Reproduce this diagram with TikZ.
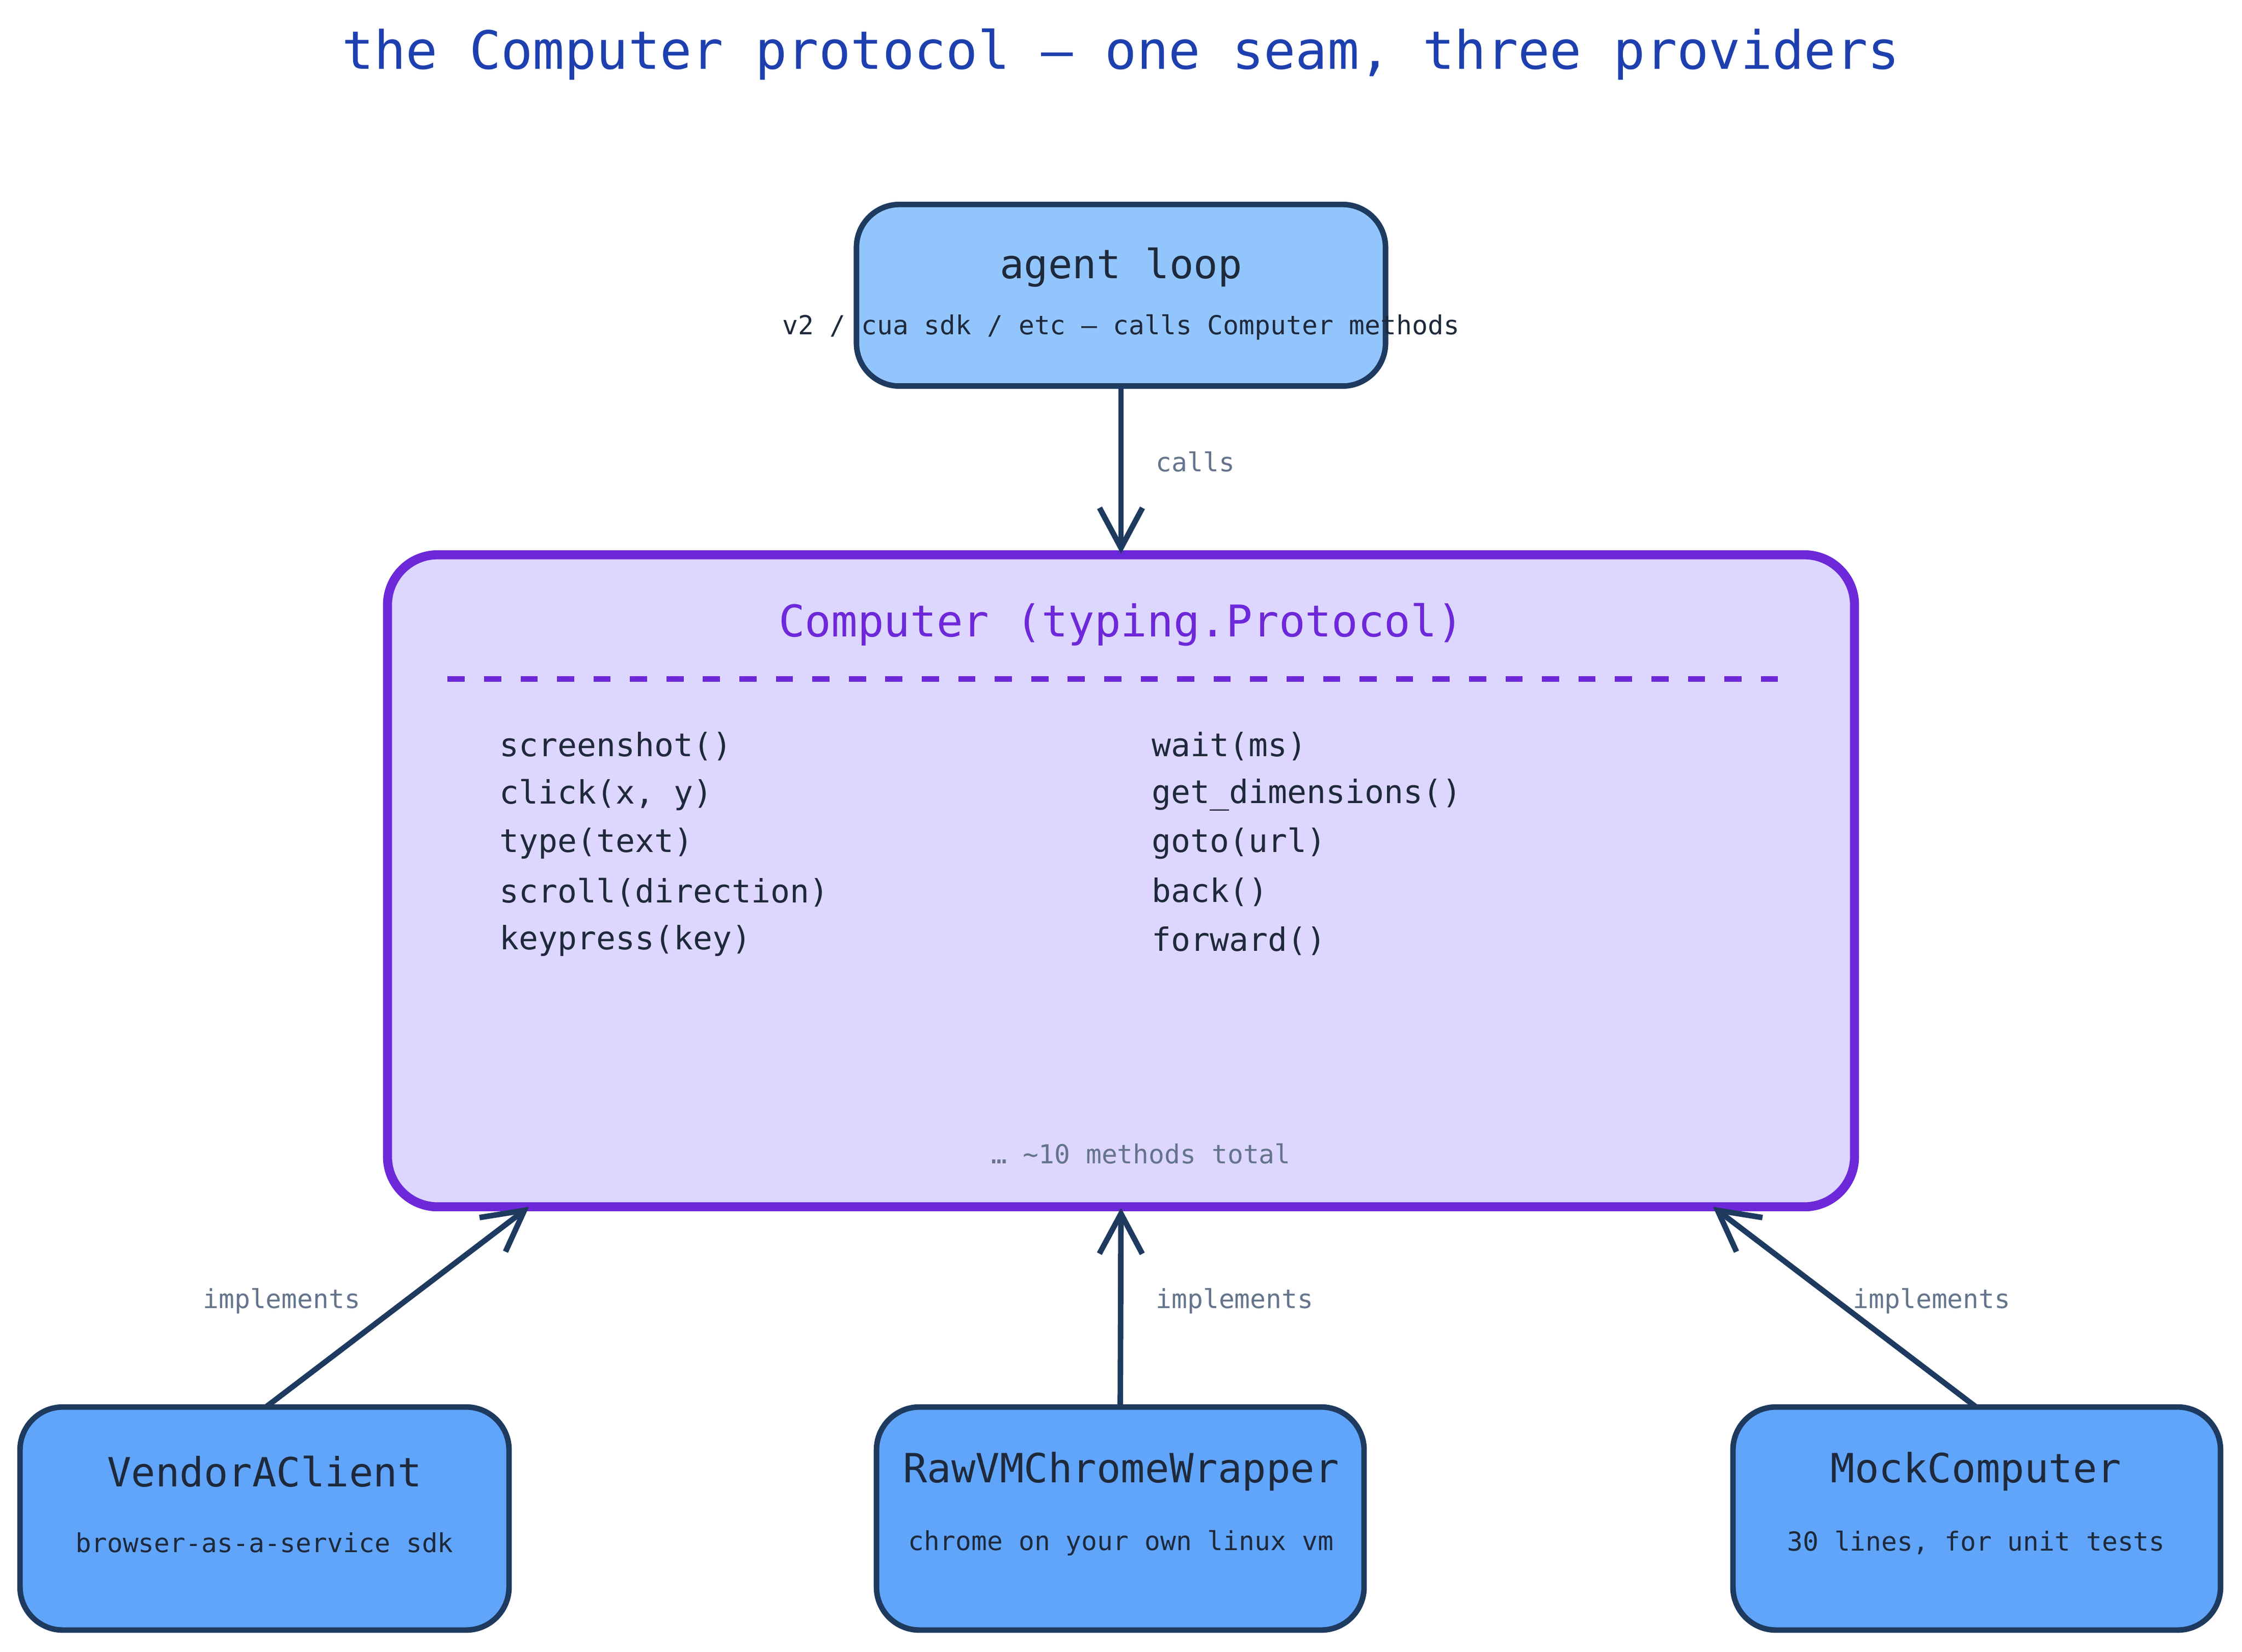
\documentclass[tikz,border=0pt]{standalone}
\usepackage{fontspec}
\setmainfont{DejaVu Sans Mono}
\setmonofont{DejaVu Sans Mono}
\usetikzlibrary{arrows.meta}
\definecolor{stk}{HTML}{1E3A5F}
\definecolor{lblue}{HTML}{93C5FD}
\definecolor{mblue}{HTML}{60A5FA}
\definecolor{purp}{HTML}{6D28D9}
\definecolor{lpurp}{HTML}{DDD6FE}
\definecolor{ttl}{HTML}{1E40AF}
\definecolor{gry}{HTML}{64748B}
\definecolor{txt}{HTML}{1E293B}
\begin{document}
\begin{tikzpicture}[x=0.01cm,y=-0.01cm,
  box/.style={draw=stk,line width=1.1pt,rounded corners=0.3cm},
  head/.style={font=\fontsize{8}{9}\selectfont,text=txt},
  sub/.style={font=\fontsize{5.2}{6}\selectfont,text=txt},
  lbl/.style={font=\fontsize{5.2}{6}\selectfont,text=gry},
  meth/.style={font=\fontsize{6.4}{7}\selectfont,text=txt,anchor=west},
  arr/.style={draw=stk,line width=1.1pt,-{Straight Barb[length=0.28cm,width=0.3cm,line width=1.1pt]}}]
\useasboundingbox (0,0) rectangle (1568,1155);
\node[font=\fontsize{10.5}{12}\selectfont,text=ttl] (title) at (784,38) {the Computer protocol — one seam, three providers};
% agent loop
\path[box,fill=lblue] (599,143) rectangle (969,270);
\node[inner sep=0,minimum width=370*0.01cm,minimum height=127*0.01cm] (agent) at (784,206.5) {};
\node[head] (agentt) at (784,187) {agent loop};
\node[sub] (agents) at (784,229) {v2 / cua sdk / etc — calls Computer methods};
% Computer
\path[draw=purp,line width=1.8pt,fill=lpurp,rounded corners=0.35cm] (271,388) rectangle (1297,844);
\node[inner sep=0,minimum width=1026*0.01cm,minimum height=456*0.01cm] (comp) at (784,616) {};
\node[font=\fontsize{8.7}{10}\selectfont,text=purp] (compt) at (784,437) {Computer (typing.Protocol)};
\coordinate (d1) at (313,475); \coordinate (d2) at (1250,475);
\draw[purp,line width=1.1pt,dash pattern=on 0.12cm off 0.135cm] (d1) -- (d2);
\node[meth] (m1) at (337,522) {screenshot()};
\node[meth] (m2) at (337,556) {click(x, y)};
\node[meth] (m3) at (337,590) {type(text)};
\node[meth] (m4) at (337,624) {scroll(direction)};
\node[meth] (m5) at (337,658) {keypress(key)};
\node[meth] (m6) at (793,522) {wait(ms)};
\node[meth] (m7) at (793,556) {get\_dimensions()};
\node[meth] (m8) at (793,590) {goto(url)};
\node[meth] (m9) at (793,624) {back()};
\node[meth] (m10) at (793,658) {forward()};
\node[lbl] (tot) at (798,807) {… \textasciitilde10 methods total};
% bottom
\path[box,fill=mblue] (14,984) rectangle (356,1140);
\path[box,fill=mblue] (613,984) rectangle (954,1140);
\path[box,fill=mblue] (1212,984) rectangle (1553,1140);
\node[inner sep=0,minimum width=342*0.01cm,minimum height=156*0.01cm] (va) at (185,1062) {};
\node[inner sep=0,minimum width=341*0.01cm,minimum height=156*0.01cm] (rv) at (783.5,1062) {};
\node[inner sep=0,minimum width=341*0.01cm,minimum height=156*0.01cm] (mc) at (1382.5,1062) {};
\node[head] (vat) at (185,1029) {VendorAClient};
\node[sub] (vas) at (185,1079) {browser-as-a-service sdk};
\node[head] (rvt) at (784,1029) {RawVMChromeWrapper};
\node[sub] (rvs) at (784,1079) {chrome on your own linux vm};
\node[head] (mct) at (1382,1029) {MockComputer};
\node[sub] (mcs) at (1382,1079) {30 lines, for unit tests};
% arrows
\coordinate (c1) at (370,844); \coordinate (c3) at (1198,844);
\coordinate (b1) at (186,984); \coordinate (b3) at (1382,984);
\draw[arr] (agent.south) -- (comp.north);
\draw[arr] (b1) -- (c1);
\draw[arr] (rv.north) -- (comp.south);
\draw[arr] (b3) -- (c3);
\node[lbl,anchor=west] (l0) at (796,323) {calls};
\node[lbl] (l1) at (197,910) {implements};
\node[lbl,anchor=west] (l2) at (796,910) {implements};
\node[lbl] (l3) at (1351,910) {implements};
\end{tikzpicture}
\end{document}
